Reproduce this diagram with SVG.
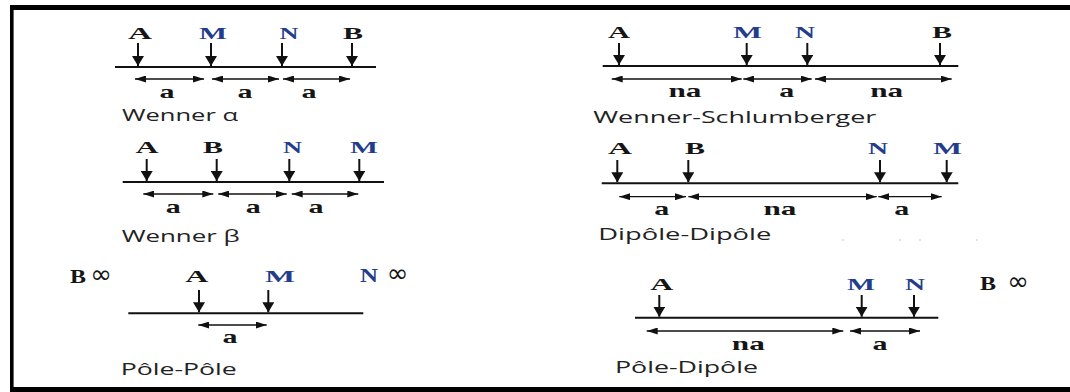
<svg xmlns="http://www.w3.org/2000/svg" width="1070" height="392" viewBox="0 0 1070 392">
<style>
.el{font-family:"Liberation Serif",serif;font-weight:bold;font-size:17px;text-anchor:middle;fill:#151515}
.big{font-size:18px}
.blue{fill:#243c8c}
.dim{font-family:"Liberation Serif",serif;font-weight:bold;font-size:19px;text-anchor:middle;fill:#151515}
.cap{font-family:"Open Sans",sans-serif;font-size:16.5px;fill:#222}
.inf{font-family:"DejaVu Sans",sans-serif;font-weight:normal;font-size:26px;text-anchor:middle;fill:#151515}
.stem{stroke:#111;stroke-width:2;fill:none;marker-end:url(#down)}
.ground{stroke:#111;stroke-width:2}
.dimline{stroke:#111;stroke-width:1.3;fill:none;marker-start:url(#dh);marker-end:url(#dh)}
.frame{stroke:#000;fill:none}
</style>
<defs>
<marker id="down" markerUnits="userSpaceOnUse" markerWidth="10" markerHeight="12" viewBox="0 0 10 12" refX="10" refY="6" orient="auto"><path d="M0,0 L10,6 L0,12 z" fill="#111"/></marker>
<marker id="dh" markerUnits="userSpaceOnUse" markerWidth="11" markerHeight="7" viewBox="0 0 11 7" refX="11" refY="3.5" orient="auto-start-reverse"><path d="M0,0 L11,3.5 L0,7 z" fill="#111"/></marker>
</defs>
<rect width="1070" height="392" fill="#fff"/>
<g id="frame">
<line class="frame" x1="10" y1="7.5" x2="1070" y2="7.5" stroke-width="5"/>
<line class="frame" x1="11.8" y1="5" x2="11.8" y2="392" stroke-width="3.6"/>
<line class="frame" x1="10" y1="389.5" x2="1070" y2="389.5" stroke-width="5"/>
</g>

<g id="wenner-alpha">
<line class="ground" x1="115" y1="67" x2="376" y2="67"/>
<text class="el" x="140" y="39" textLength="24" lengthAdjust="spacingAndGlyphs">A</text>
<text class="el blue" x="213" y="39" textLength="28" lengthAdjust="spacingAndGlyphs">M</text>
<text class="el blue" x="289" y="39" textLength="19" lengthAdjust="spacingAndGlyphs">N</text>
<text class="el" x="353" y="39" textLength="20" lengthAdjust="spacingAndGlyphs">B</text>
<text class="dim" x="167" y="98" textLength="15" lengthAdjust="spacingAndGlyphs">a</text>
<text class="dim" x="245" y="98" textLength="15" lengthAdjust="spacingAndGlyphs">a</text>
<text class="dim" x="309" y="98" textLength="15" lengthAdjust="spacingAndGlyphs">a</text>
<text class="cap" x="122" y="120.5" textLength="116" lengthAdjust="spacingAndGlyphs">Wenner α</text>
</g>

<g id="wenner-beta">
<line class="ground" x1="122.7" y1="182" x2="384" y2="182"/>
<text class="el" x="147" y="153" textLength="23" lengthAdjust="spacingAndGlyphs">A</text>
<text class="el" x="213" y="153" textLength="20" lengthAdjust="spacingAndGlyphs">B</text>
<text class="el blue" x="292.5" y="153" textLength="19" lengthAdjust="spacingAndGlyphs">N</text>
<text class="el blue" x="364" y="153" textLength="28" lengthAdjust="spacingAndGlyphs">M</text>
<text class="dim" x="173.3" y="213.3" textLength="15" lengthAdjust="spacingAndGlyphs">a</text>
<text class="dim" x="253.3" y="213.3" textLength="15" lengthAdjust="spacingAndGlyphs">a</text>
<text class="dim" x="316" y="213.3" textLength="15" lengthAdjust="spacingAndGlyphs">a</text>
<text class="cap" x="121.7" y="241.7" textLength="118" lengthAdjust="spacingAndGlyphs">Wenner β</text>
</g>

<g id="pole-pole">
<line class="ground" x1="128.3" y1="313.3" x2="363.3" y2="313.3"/>
<text class="el big" x="78" y="283" textLength="16" lengthAdjust="spacingAndGlyphs">B</text>
<text class="inf" x="101" y="283">∞</text>
<text class="el" x="196.7" y="282" textLength="23" lengthAdjust="spacingAndGlyphs">A</text>
<text class="el blue" x="280" y="282" textLength="30" lengthAdjust="spacingAndGlyphs">M</text>
<text class="el big blue" x="369" y="282" textLength="18" lengthAdjust="spacingAndGlyphs">N</text>
<text class="inf blue" x="397.5" y="282">∞</text>
<text class="dim" x="230" y="343.3" textLength="15" lengthAdjust="spacingAndGlyphs">a</text>
<text class="cap" x="120.7" y="375" textLength="116" lengthAdjust="spacingAndGlyphs">Pôle-Pôle</text>
</g>

<g id="wenner-schlumberger">
<line class="ground" x1="602.7" y1="66" x2="958.3" y2="66"/>
<text class="el" x="619" y="38" textLength="22" lengthAdjust="spacingAndGlyphs">A</text>
<text class="el blue" x="747.5" y="38" textLength="29" lengthAdjust="spacingAndGlyphs">M</text>
<text class="el blue" x="805" y="38" textLength="20" lengthAdjust="spacingAndGlyphs">N</text>
<text class="el" x="942" y="38" textLength="20" lengthAdjust="spacingAndGlyphs">B</text>
<text class="dim" x="685" y="96.7" textLength="33" lengthAdjust="spacingAndGlyphs">na</text>
<text class="dim" x="786.7" y="96.7" textLength="15" lengthAdjust="spacingAndGlyphs">a</text>
<text class="dim" x="886.7" y="96.7" textLength="33" lengthAdjust="spacingAndGlyphs">na</text>
<text class="cap" x="593.3" y="123.3" textLength="283" lengthAdjust="spacingAndGlyphs">Wenner-Schlumberger</text>
</g>

<g id="dipole-dipole">
<line class="ground" x1="601.7" y1="183.3" x2="958.3" y2="183.3"/>
<text class="el" x="620" y="154" textLength="24" lengthAdjust="spacingAndGlyphs">A</text>
<text class="el" x="695" y="154" textLength="20" lengthAdjust="spacingAndGlyphs">B</text>
<text class="el blue" x="878" y="154" textLength="20" lengthAdjust="spacingAndGlyphs">N</text>
<text class="el blue" x="947.5" y="154" textLength="29" lengthAdjust="spacingAndGlyphs">M</text>
<text class="dim" x="661.7" y="215" textLength="15" lengthAdjust="spacingAndGlyphs">a</text>
<text class="dim" x="780" y="215" textLength="33" lengthAdjust="spacingAndGlyphs">na</text>
<text class="dim" x="901.7" y="215" textLength="15" lengthAdjust="spacingAndGlyphs">a</text>
<text class="cap" x="598.3" y="240" textLength="173" lengthAdjust="spacingAndGlyphs">Dipôle-Dipôle</text>
<g fill="#c4c4c4"><circle cx="843" cy="240" r="0.8"/><circle cx="900" cy="240" r="0.8"/><circle cx="920" cy="240" r="0.8"/><circle cx="976.7" cy="240" r="0.8"/></g>
</g>

<g id="pole-dipole">
<line class="ground" x1="635" y1="317.7" x2="938.3" y2="317.7"/>
<text class="el" x="661.7" y="290" textLength="23" lengthAdjust="spacingAndGlyphs">A</text>
<text class="el blue" x="861" y="290" textLength="28" lengthAdjust="spacingAndGlyphs">M</text>
<text class="el blue" x="915" y="290" textLength="20" lengthAdjust="spacingAndGlyphs">N</text>
<text class="el big" x="988" y="290" textLength="16" lengthAdjust="spacingAndGlyphs">B</text>
<text class="inf" x="1018" y="290">∞</text>
<text class="dim" x="748.3" y="350" textLength="33" lengthAdjust="spacingAndGlyphs">na</text>
<text class="dim" x="880" y="350" textLength="15" lengthAdjust="spacingAndGlyphs">a</text>
<text class="cap" x="615" y="373.3" textLength="143" lengthAdjust="spacingAndGlyphs">Pôle-Dipôle</text>
</g>

<g id="connectors">
<path class="stem" d="M138,43V66"/><path class="stem" d="M211,43V66"/><path class="stem" d="M282,43V66"/><path class="stem" d="M352,43V66"/>
<path class="dimline" d="M135,79H204"/><path class="dimline" d="M212,79H279"/><path class="dimline" d="M283,79H350"/>
<path class="stem" d="M146.7,159V181"/><path class="stem" d="M216.7,159V181"/><path class="stem" d="M289.3,159V181"/><path class="stem" d="M359.3,159V181"/>
<path class="dimline" d="M143.3,194H213.3"/><path class="dimline" d="M218.3,194H286.7"/><path class="dimline" d="M291.7,194H358.3"/>
<path class="stem" d="M199,290V312.3"/><path class="stem" d="M268.3,290V312.3"/>
<path class="dimline" d="M198.3,325H266.7"/>
<path class="stem" d="M619,43V65"/><path class="stem" d="M746.7,43V65"/><path class="stem" d="M807.3,43V65"/><path class="stem" d="M940,43V65"/>
<path class="dimline" d="M611.7,79H741.7"/><path class="dimline" d="M743.3,79H811.7"/><path class="dimline" d="M815,79H951.7"/>
<path class="stem" d="M617.3,160V182.3"/><path class="stem" d="M688.3,160V182.3"/><path class="stem" d="M880,160V182.3"/><path class="stem" d="M946.7,160V182.3"/>
<path class="dimline" d="M619.3,196.7H686"/><path class="dimline" d="M688.3,196.7H876.7"/><path class="dimline" d="M878.3,196.7H941.7"/>
<path class="stem" d="M659.3,295V316.7"/><path class="stem" d="M861.7,295V316.7"/><path class="stem" d="M914,295V316.7"/>
<path class="dimline" d="M646.7,331H843.3"/><path class="dimline" d="M850,331H920"/>
</g>
</svg>
